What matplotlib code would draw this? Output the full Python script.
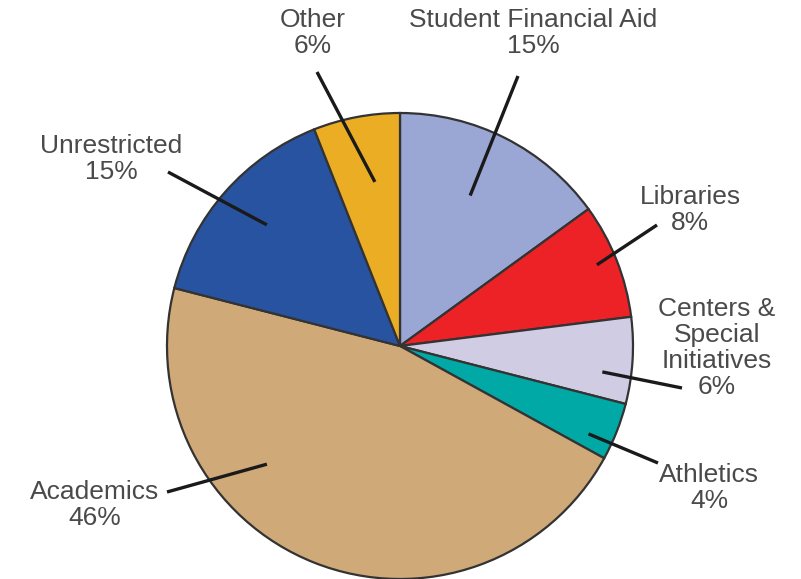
import numpy as np
import matplotlib.pyplot as plt

# budget shares, clockwise from the top
categories = ['Student Financial Aid', 'Libraries', 'Centers &\nSpecial\nInitiatives',
              'Athletics', 'Academics', 'Unrestricted', 'Other']
shares = [15, 8, 6, 4, 46, 15, 6]
colors = ['#9AA6D3', '#EC2227', '#D0CCE4', '#00A9A5', '#CFA978', '#2853A0', '#EAAD24']

plt.rcParams['font.family'] = ['Liberation Sans', 'DejaVu Sans']

W, H = 801, 579
fig = plt.figure(figsize=(W / 100, H / 100), dpi=100)
ax = fig.add_axes([0, 0, 1, 1])

cx, cy, R = 400, H - 346, 233
wedges, _ = ax.pie(shares, colors=colors, startangle=90, counterclock=False,
                   center=(cx, cy), radius=R, frame=True,
                   wedgeprops=dict(edgecolor='#333333', linewidth=1.6))
ax.set_xlim(0, W)
ax.set_ylim(0, H)
ax.axis('off')

# label layout: (angle of leader start, radius of leader start, leader end, text pos)
layout = [
    (65, 166, (518, 76), (533, 8)),
    (22.4, 213, (657, 225), (690, 185)),
    (-7.3, 204, (682, 388), (717, 297)),
    (-25, 208, (658, 463), (709, 463)),
    (221.6, 178, (167, 492), (95, 480)),
    (137.7, 180, (168, 172), (111, 134)),
    (98.7, 166, (317, 72), (313, 8)),
]

for name, val, (ang, r, end, txt) in zip(categories, shares, layout):
    x0 = cx + r * np.cos(np.radians(ang))
    y0 = cy + r * np.sin(np.radians(ang))
    ax.plot([x0, end[0]], [y0, H - end[1]], color='#1a1a1a', linewidth=2.4,
            solid_capstyle='butt')
    ax.text(txt[0], H - txt[1], f'{name}\n{val}%', ha='center', va='top',
            fontsize=19, color='#4a4a4a', linespacing=1.1)

fig.savefig('out.png', dpi=100)
